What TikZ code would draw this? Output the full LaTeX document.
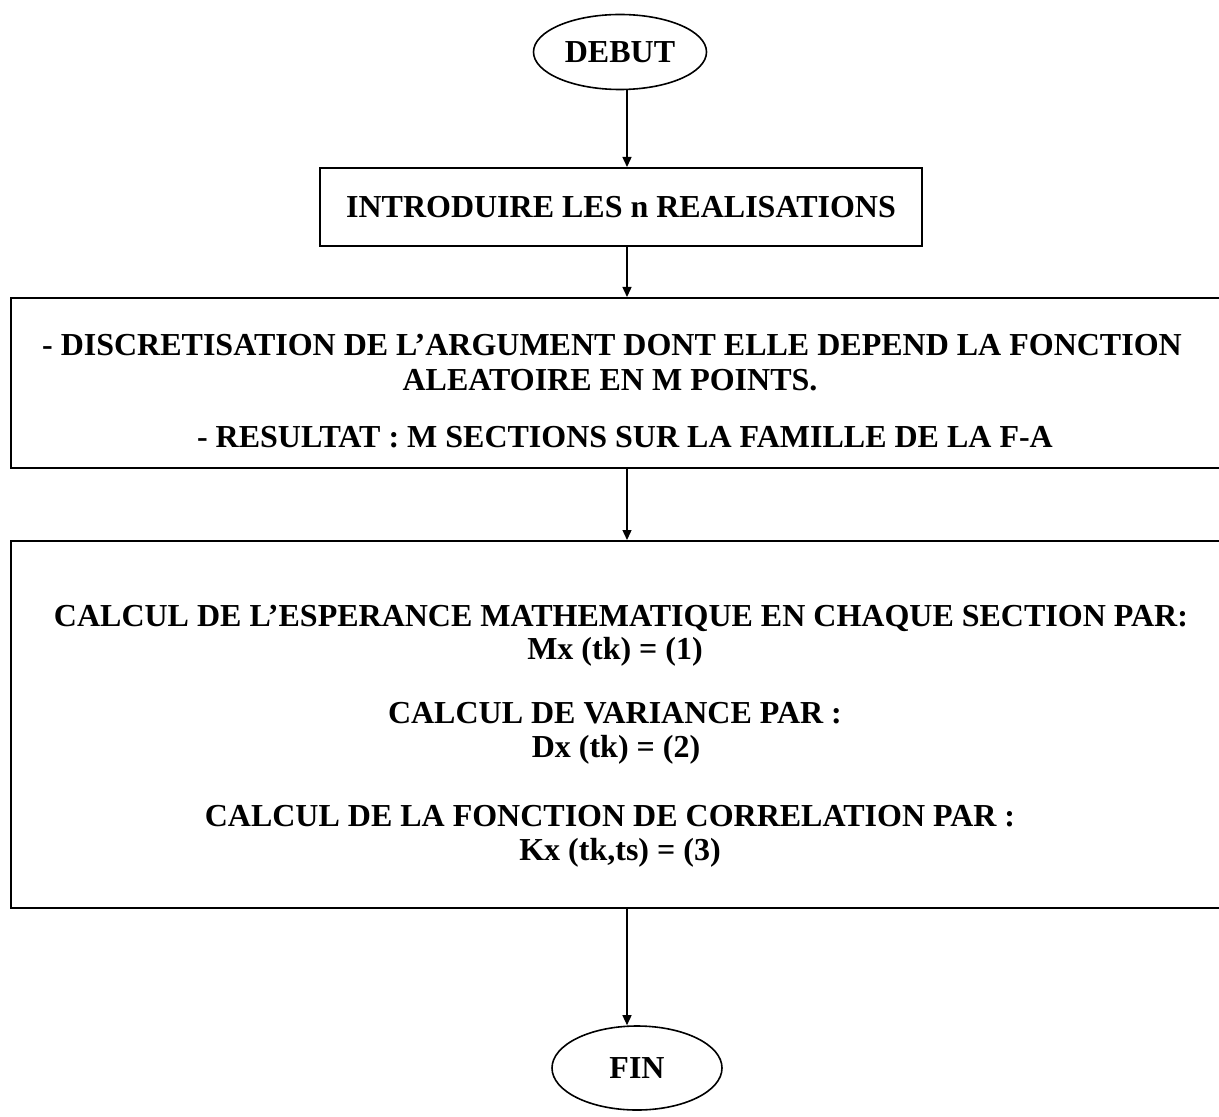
\documentclass[tikz,border=0pt]{standalone}
\usepackage{fontspec}
\setmainfont{Liberation Serif}
\usetikzlibrary{shapes.geometric,arrows.meta}
\begin{document}
\begin{tikzpicture}[x=0.5pt,y=-0.5pt,
  every node/.style={font=\fontsize{16}{16}\selectfont\bfseries},
  frame/.style={draw, line width=1pt, inner sep=0pt},
  terminal/.style={draw, ellipse, line width=0.8pt, inner sep=0pt},
  txt/.style={inner sep=0pt, anchor=base},
  flow/.style={-{Triangle[length=5pt,width=4.5pt]}, line width=0.7pt}]
\useasboundingbox (0,0) rectangle (1219,1117);
\fill[white] (0,0) rectangle (1219,1117);
\clip (0,0) rectangle (1219,1117);

% main flow column
\coordinate (axis) at (627,0);

% start
\node[terminal, minimum width=86.5pt, minimum height=37.5pt] (debut) at (620,52) {DEBUT};

% input step
\node[frame, minimum width=301pt, minimum height=39pt] (intro) at (621,207) {INTRODUIRE LES n REALISATIONS};

% discretisation step (runs off the right edge)
\node[frame, anchor=north west, minimum width=607pt, minimum height=85pt] (discr) at (10,297) {};
\node[txt] (d1) at (612,356) {- DISCRETISATION DE L’ARGUMENT DONT ELLE DEPEND LA FONCTION};
\node[txt] (d2) at (610,390) {ALEATOIRE EN M POINTS.};
\node[txt] (d3) at (625,447) {- RESULTAT : M SECTIONS SUR LA FAMILLE DE LA F-A};

% statistics step (runs off the right edge)
\node[frame, anchor=north west, minimum width=607pt, minimum height=183.5pt] (calc) at (10,540) {};
\node[txt] (c1) at (621,626) {CALCUL DE L’ESPERANCE MATHEMATIQUE EN CHAQUE SECTION PAR:};
\node[txt] (c2) at (615,659) {Mx (tk) = (1)};
\node[txt] (c3) at (615,723) {CALCUL DE VARIANCE PAR :};
\node[txt] (c4) at (616,757) {Dx (tk) = (2)};
\node[txt] (c5) at (610,826) {CALCUL DE LA FONCTION DE CORRELATION PAR :};
\node[txt] (c6) at (620,860) {Kx (tk,ts) = (3)};

% end
\node[terminal, minimum width=85pt, minimum height=42pt] (fin) at (637,1068) {FIN};

% connectors
\draw[flow] (debut.south -| axis) -- (intro.north -| axis);
\draw[flow] (intro.south -| axis) -- (discr.north -| axis);
\draw[flow] (discr.south -| axis) -- (calc.north -| axis);
\draw[flow] (calc.south -| axis) -- (fin.north -| axis);
\end{tikzpicture}
\end{document}
